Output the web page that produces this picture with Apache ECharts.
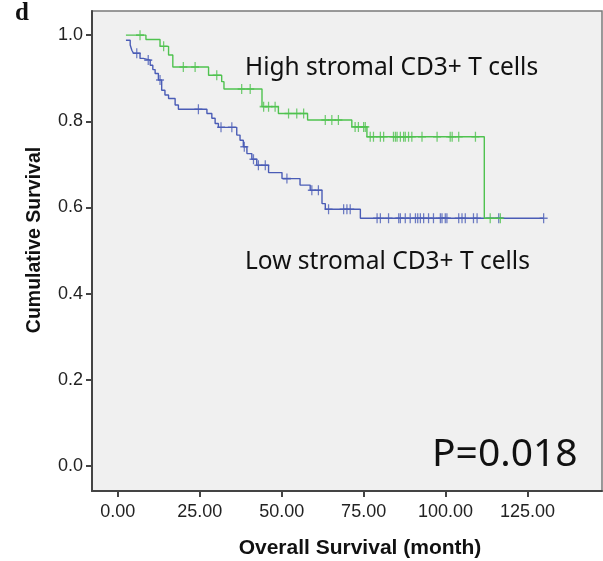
<!DOCTYPE html>
<html>
<head>
<meta charset="utf-8">
<script src="https://cdn.jsdelivr.net/npm/echarts@6/dist/echarts.min.js"></script>
<style>
  html, body { margin: 0; padding: 0; background: #fff; }
  #km_chart { width: 603px; height: 561px; }
</style>
</head>
<body>
<div id="km_chart"></div>
<script>
// low stromal CD3+ (blue) - event times and survival after each drop
var lowTime = [2.5, 3.8, 4.3, 4.8, 6.8, 7.8, 9.9, 10.7, 11.4, 12.4, 13.4, 14.4, 15.5, 17.5, 18.5,
    27.2, 28.7, 29.7, 30.7, 36.3, 37.3, 38.3, 39.4, 40.9, 42.4, 46.0, 50.1, 55.6, 58.7, 62.3, 63.3, 74.0, 129.9];
var lowSurv = [0.988, 0.977, 0.965, 0.958, 0.946, 0.942, 0.930, 0.920, 0.911, 0.896, 0.872, 0.861, 0.853, 0.838, 0.828,
    0.818, 0.807, 0.795, 0.786, 0.768, 0.756, 0.741, 0.725, 0.712, 0.698, 0.681, 0.667, 0.652, 0.640, 0.609, 0.596, 0.575, 0.575];
var lowCensor = [5.8, 9.3, 12.9, 24.6, 31.5, 34.8, 38.6, 41.4, 42.9, 45.0, 51.6, 59.2, 61.2, 64.3, 68.9, 69.9, 70.9,
    79.1, 80.1, 82.6, 85.7, 86.2, 87.7, 89.2, 90.8, 91.5, 92.3, 93.3, 94.8, 96.3, 98.4, 98.9, 99.9, 100.4,
    104.0, 105.0, 106.0, 108.5, 109.6, 116.2, 129.9];

// high stromal CD3+ (green)
var highTime = [2.5, 8.6, 12.9, 15.5, 16.8, 27.7, 31.7, 32.4, 44.0, 49.0, 57.9, 71.4, 76.0, 111.8, 117.7];
var highSurv = [1.0, 0.990, 0.974, 0.954, 0.926, 0.907, 0.892, 0.875, 0.834, 0.818, 0.803, 0.787, 0.764, 0.575, 0.575];
var highCensor = [6.8, 14.0, 20.0, 23.6, 30.2, 37.8, 40.4, 44.5, 46.0, 48.0, 52.1, 54.6, 56.7, 63.3, 65.3, 67.3,
    72.4, 73.4, 75.0, 75.5, 77.0, 78.0, 80.1, 81.1, 84.1, 84.7, 85.2, 86.2, 87.2, 87.7, 88.7, 89.7,
    92.8, 97.4, 101.4, 102.0, 104.0, 109.1, 113.6, 116.7];

var xTicks = [0, 25, 50, 75, 100, 125];
var yTicks = [0, 0.2, 0.4, 0.6, 0.8, 1.0];

var blue = '#4a5cb6';
var green = '#4fc24f';

function steps(times, surv){
    var out = [];
    for (var i = 0; i < times.length; i++) out.push([times[i], surv[i]]);
    return out;
}

// survival level at a censoring time, read from the step function
function censorPoints(censor, times, surv){
    return censor.map(function(t){
        var s = surv[0];
        for (var i = 0; i < times.length; i++){
            if (times[i] <= t) s = surv[i];
        }
        return [t, s];
    });
}

var plus = 'path://M5,0L5,10M0,5L10,5';

function display_km(){
    var chart = echarts.init(document.getElementById('km_chart'));
    var option = {
        backgroundColor: '#ffffff',
        animation: false,
        grid: {
            left: 92, right: 1, top: 11, bottom: 70,
            show: true,
            backgroundColor: '#f0f0f0',
            borderColor: '#7a7a7a',
            borderWidth: 1.5
        },
        xAxis: {
            type: 'value',
            min: -7.85,
            max: 147.7,
            splitLine: { show: false },
            axisLine: { show: true, onZero: false, lineStyle: { color: '#444', width: 2 } },
            axisTick: { show: true, customValues: xTicks, length: 6, lineStyle: { color: '#444', width: 2 } },
            axisLabel: {
                customValues: xTicks,
                margin: 12,
                fontFamily: 'Liberation Sans',
                fontSize: 18,
                color: '#222',
                formatter: function(v){ return v.toFixed(2); }
            }
        },
        yAxis: {
            type: 'value',
            min: -0.058,
            max: 1.056,
            splitLine: { show: false },
            axisLine: { show: true, onZero: false, lineStyle: { color: '#444', width: 2 } },
            axisTick: { show: true, customValues: yTicks, length: 6, lineStyle: { color: '#444', width: 2 } },
            axisLabel: {
                customValues: yTicks,
                margin: 9,
                fontFamily: 'Liberation Sans',
                fontSize: 18,
                color: '#222',
                formatter: function(v){ return v.toFixed(1); }
            }
        },
        graphic: [
            { type: 'text', left: 15, top: 1, style: { text: 'd', font: 'bold 25px "Liberation Serif"', fill: '#111' } },
            { type: 'text', x: 35, y: 240, rotation: Math.PI / 2,
              style: { text: 'Cumulative Survival', font: 'bold 19.5px "Liberation Sans"', fill: '#111', align: 'center', verticalAlign: 'middle' } },
            { type: 'text', x: 360, y: 548,
              style: { text: 'Overall Survival (month)', font: 'bold 21px "Liberation Sans"', fill: '#111', align: 'center', verticalAlign: 'middle' } },
            { type: 'text', x: 245, y: 68,
              style: { text: 'High stromal CD3+ T cells', font: '24.5px "Noto Sans"', fill: '#111', verticalAlign: 'middle' } },
            { type: 'text', x: 245, y: 262,
              style: { text: 'Low stromal CD3+ T cells', font: '24.5px "Noto Sans"', fill: '#111', verticalAlign: 'middle' } },
            { type: 'text', x: 432, y: 455,
              style: { text: 'P=0.018', font: '39px "Noto Sans"', fill: '#111', verticalAlign: 'middle' } }
        ],
        series: [
            {
                type: 'line', step: 'end', showSymbol: false,
                data: steps(lowTime, lowSurv),
                lineStyle: { color: blue, width: 1.4 }
            },
            {
                type: 'line', step: 'end', showSymbol: false,
                data: steps(highTime, highSurv),
                lineStyle: { color: green, width: 1.4 }
            },
            {
                type: 'scatter', symbol: plus, symbolSize: [8, 10],
                data: censorPoints(lowCensor, lowTime, lowSurv),
                itemStyle: { color: 'none', borderColor: blue, borderWidth: 1.4 }
            },
            {
                type: 'scatter', symbol: plus, symbolSize: [8, 10],
                data: censorPoints(highCensor, highTime, highSurv),
                itemStyle: { color: 'none', borderColor: green, borderWidth: 1.4 }
            }
        ]
    };
    chart.clear();
    chart.setOption(option);
}

display_km();
</script>
</body>
</html>
